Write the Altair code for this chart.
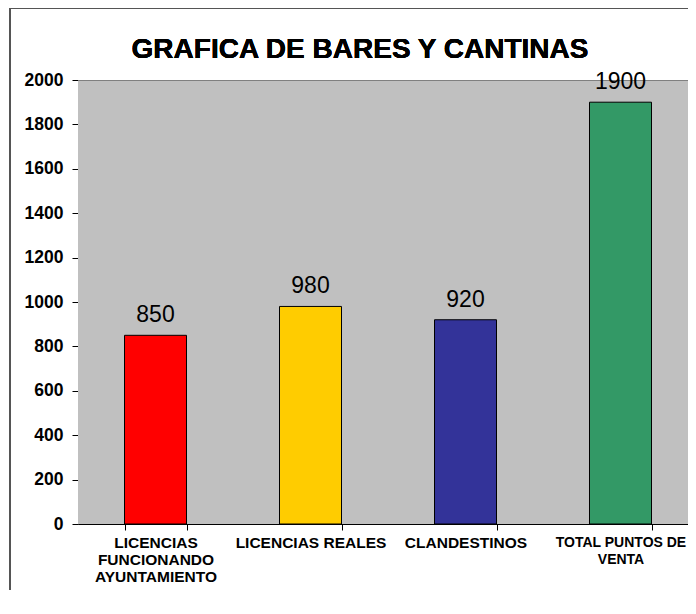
import altair as alt
import pandas as pd

categories = [
    "LICENCIAS|FUNCIONANDO|AYUNTAMIENTO",
    "LICENCIAS REALES",
    "CLANDESTINOS",
    "TOTAL PUNTOS DE|VENTA",
]
values = [850, 980, 920, 1900]
colors = ["#FF0000", "#FFCC00", "#333399", "#339966"]
y_ticks = list(range(0, 2001, 200))
title_text = "GRAFICA DE BARES Y CANTINAS"

df = pd.DataFrame({"cat": categories, "val": values, "color": colors})

FONT = "Liberation Sans"
PLOT_W = 620  # full plot width of the original (extends past the visible page)

x = alt.X(
    "cat:N",
    sort=categories,
    title=None,
    scale=alt.Scale(paddingInner=0.6, paddingOuter=0.3, range=[0, PLOT_W]),
    axis=alt.Axis(
        labelAngle=0,
        labelExpr="split(datum.label, '|')",
        labelFont=FONT,
        labelFontSize={
            "condition": {"test": "datum.value == 'TOTAL PUNTOS DE|VENTA'", "value": 14},
            "value": 15.5,
        },
        labelFontWeight="bold",
        labelColor="#000000",
        labelLineHeight=17,
        labelPadding=5,
        tickBand="extent",
        tickSize=6,
        tickColor="#000000",
        domainColor="#000000",
        labelLimit=200,
    ),
)
y = alt.Y(
    "val:Q",
    title=None,
    scale=alt.Scale(domain=[0, 2000], nice=False),
    axis=alt.Axis(
        values=y_ticks,
        format="d",
        grid=False,
        labelFont=FONT,
        labelFontSize=17.5,
        labelFontWeight="bold",
        labelColor="#000000",
        labelPadding=9,
        tickSize=6,
        tickColor="#000000",
        domainColor="#000000",
    ),
)

bg = alt.Chart(df).mark_rect(fill="#C0C0C0", stroke=None).encode(
    x=alt.value(0), x2=alt.value(PLOT_W), y=alt.value(0), y2=alt.value(444),
)
top_line = alt.Chart(df).mark_rule(color="#808080", strokeWidth=1).encode(
    x=alt.value(0), x2=alt.value(PLOT_W), y=alt.value(0.5),
)

bars = alt.Chart(df).mark_bar(stroke="#000000", strokeWidth=1).encode(
    x=x,
    y=y,
    color=alt.Color("color:N", scale=None),
)

labels = alt.Chart(df).mark_text(
    font=FONT, fontSize=23, baseline="alphabetic", dy=-13, color="#000000"
).encode(
    x=alt.X("cat:N", sort=categories),
    y="val:Q",
    text="val:Q",
)

frame = alt.Chart(df).mark_rect(fill=None, stroke="#555555", strokeWidth=2).encode(
    x=alt.value(-68),
    x2=alt.value(900),
    y=alt.value(-72),
    y2=alt.value(900),
)

title = alt.Chart(df).mark_text(
    font=FONT, fontSize=28, fontWeight="bold", color="#000000",
    align="center", baseline="alphabetic",
).encode(
    x=alt.value(282),
    y=alt.value(-22),
    text=alt.value(title_text),
)

chart = alt.layer(frame, bg, top_line, bars, labels, title).properties(
    width=610,
    height=444,
    autosize=alt.AutoSizeParams(type="none"),
    padding={"left": 70, "top": 72, "right": 0, "bottom": 66},
).configure(
    background="#FFFFFF"
).configure_view(
    fill="#C0C0C0", strokeWidth=0
)

chart.save("out.html", embed_options={"renderer": "svg", "actions": False})
